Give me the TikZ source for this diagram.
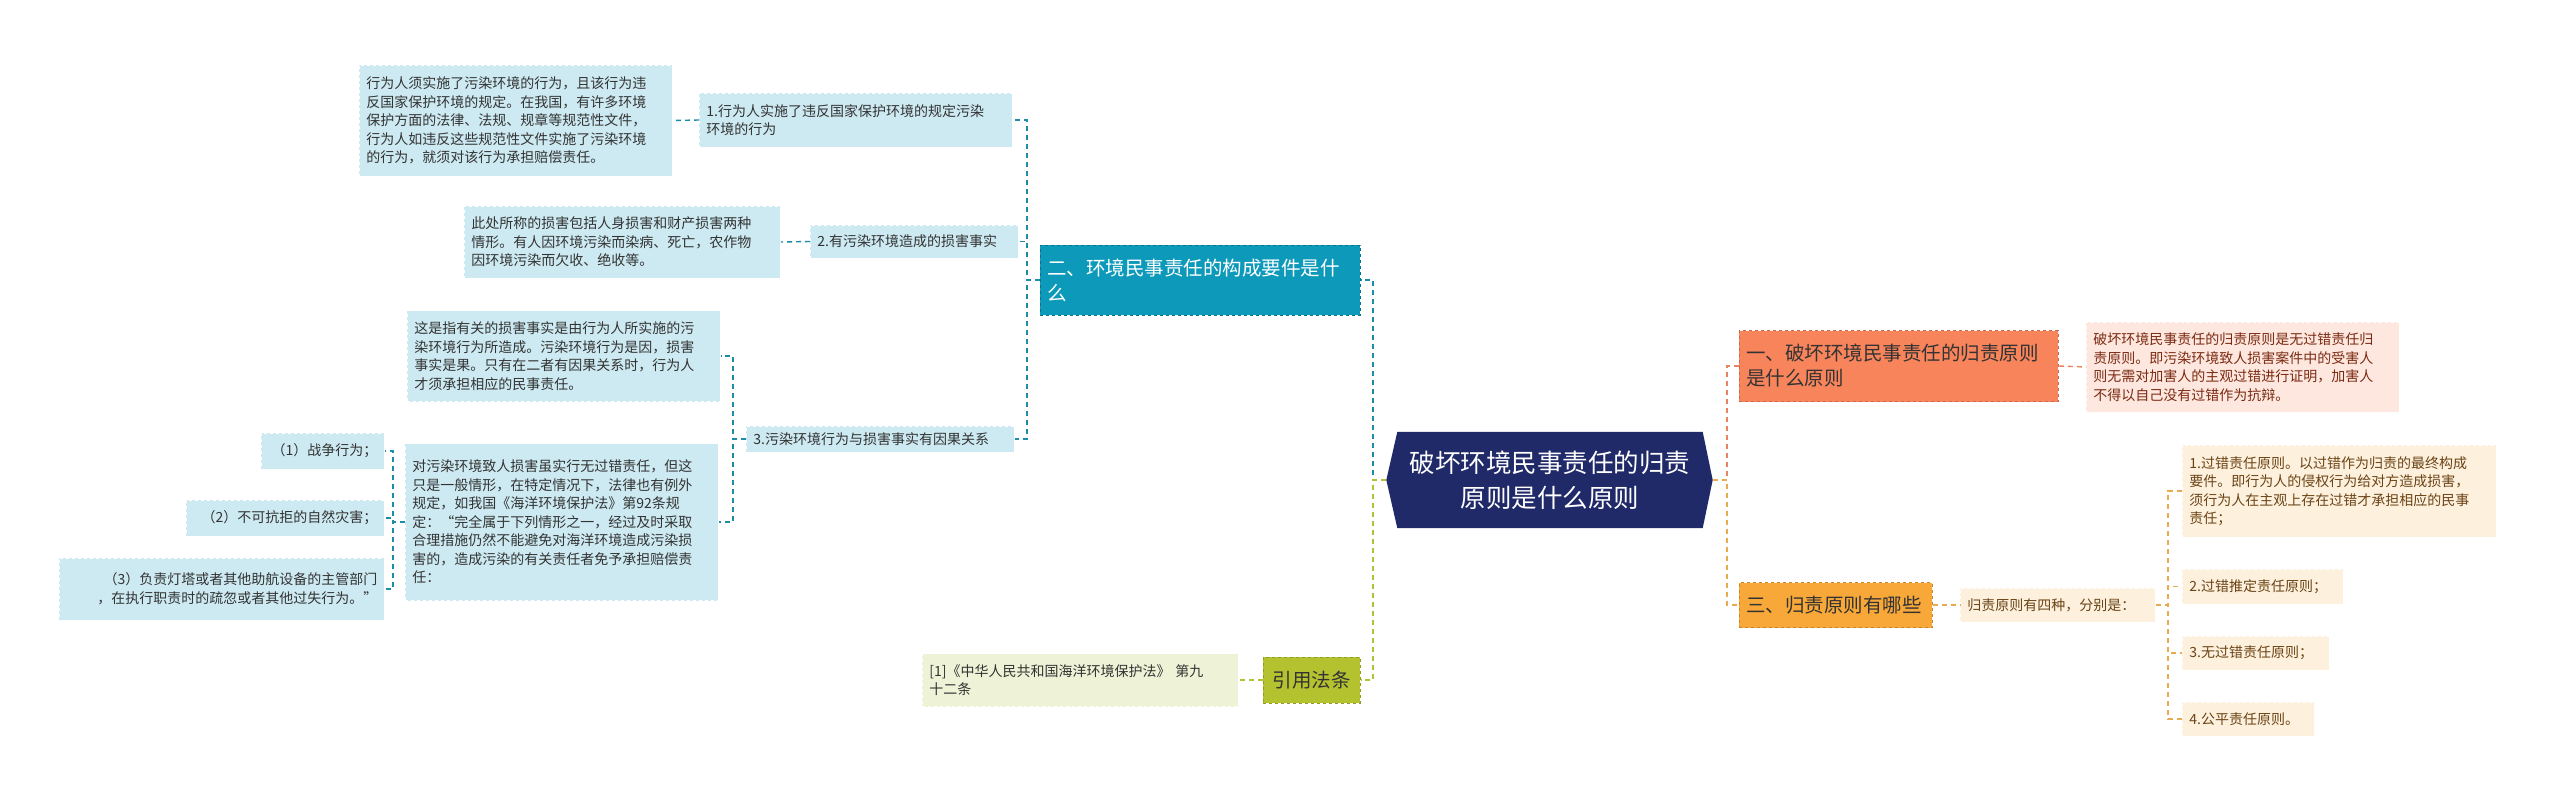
\documentclass[tikz,border=0pt]{standalone}
\usepackage{fontspec}
\setmainfont{Noto Sans CJK SC}
\usetikzlibrary{backgrounds}

\definecolor{tealc}{HTML}{0D99BA}
\definecolor{bluel}{HTML}{CDEAF2}
\definecolor{bline}{HTML}{1C8DA8}
\definecolor{navyc}{HTML}{212A69}
\definecolor{orangec}{HTML}{F8845B}
\definecolor{orangel}{HTML}{FDE7DE}
\definecolor{oline}{HTML}{E88360}
\definecolor{otext}{HTML}{7B2A12}
\definecolor{yellowc}{HTML}{F8A838}
\definecolor{yellowl}{HTML}{FDF1DE}
\definecolor{yline}{HTML}{E9AA50}
\definecolor{ytext}{HTML}{6B4315}
\definecolor{greenc}{HTML}{B5C22F}
\definecolor{greenl}{HTML}{EEF2D6}
\definecolor{gline}{HTML}{AFC23A}
\definecolor{txt}{HTML}{333333}

\tikzset{
  card/.style={rectangle, dashed, line width=0.8pt, inner xsep=7pt, inner ysep=0pt, anchor=west, align=left},
  detail/.style={card, font={\fontsize{14}{18.5}\selectfont}},
  topic/.style={card, font={\fontsize{19.5}{25}\selectfont}},
  link/.style={line width=1.4pt, dash pattern=on 5pt off 4pt},
  bluetopic/.style={topic, fill=tealc, draw=tealc!75!black, text=white},
  bluedet/.style={detail, fill=bluel, draw=white, text=txt},
  greentopic/.style={topic, fill=greenc, draw=greenc!80!black, text=txt},
  greendet/.style={detail, fill=greenl, draw=white, text=txt},
  orangetopic/.style={topic, fill=orangec, draw=orangec!80!black, text=txt},
  orangedet/.style={detail, fill=orangel, draw=white, text=otext},
  yellowtopic/.style={topic, fill=yellowc, draw=yellowc!80!black, text=txt},
  yellowdet/.style={detail, fill=yellowl, draw=white, text=ytext},
  rootnode/.style={rectangle, anchor=center, inner sep=0pt, minimum width=305, minimum height=96,
    align=center, text=white, font={\fontsize{25.5}{35}\selectfont}}
}

\begin{document}
\begin{tikzpicture}[x=1pt, y=-1pt]
    \path[use as bounding box] (0,0) rectangle (2560,800);

    % Central topic
    \node[rootnode] (root) at (1550,480) {破坏环境民事责任的归责\\原则是什么原则};
    \begin{scope}[on background layer]
        \fill[white] (0,0) rectangle (2560,800);
        \fill[navyc] ([xshift=-11pt]root.west) -- (root.north west) -- (root.north east)
            -- ([xshift=10pt]root.east) -- (root.south east) -- (root.south west) -- cycle;
    \end{scope}
    \coordinate (rl) at ([xshift=-11pt]root.west);
    \coordinate (rr) at ([xshift=10pt]root.east);
    \coordinate (jl) at (1373,480);
    \coordinate (jr) at (1727,480);

    % Blue branch
    \node[bluetopic, text width=306, minimum height=70] (b0) at (1040,280) {二、环境民事责任的构成要件是什\\么};
    \node[bluedet, text width=299, minimum height=54] (b1) at (699,120) {1.行为人实施了违反国家保护环境的规定污染\\环境的行为};
    \node[bluedet, text width=299, minimum height=111] (b1d) at (359,120.5) {行为人须实施了污染环境的行为，且该行为违\\反国家保护环境的规定。在我国，有许多环境\\保护方面的法律、法规、规章等规范性文件，\\行为人如违反这些规范性文件实施了污染环境\\的行为，就须对该行为承担赔偿责任。};
    \node[bluedet, text width=194, minimum height=33] (b2) at (810,241.5) {2.有污染环境造成的损害事实};
    \node[bluedet, text width=302, minimum height=72] (b2d) at (464,242) {此处所称的损害包括人身损害和财产损害两种\\情形。有人因环境污染而染病、死亡，农作物\\因环境污染而欠收、绝收等。};
    \node[bluedet, text width=254, minimum height=26] (b3) at (746,439) {3.污染环境行为与损害事实有因果关系};
    \node[bluedet, text width=299, minimum height=91] (b3d1) at (407,356) {这是指有关的损害事实是由行为人所实施的污\\染环境行为所造成。污染环境行为是因，损害\\事实是果。只有在二者有因果关系时，行为人\\才须承担相应的民事责任。};
    \node[bluedet, text width=299, minimum height=157] (b3d2) at (405,522) {对污染环境致人损害虽实行无过错责任，但这\\只是一般情形，在特定情况下，法律也有例外\\规定，如我国《海洋环境保护法》第92条规\\定：“完全属于下列情形之一，经过及时采取\\合理措施仍然不能避免对海洋环境造成污染损\\害的，造成污染的有关责任者免予承担赔偿责\\任：};
    \node[bluedet, align=right, text width=109, minimum height=36] (e1) at (261,451) {（1）战争行为；};
    \node[bluedet, align=right, text width=184, minimum height=36] (e2) at (186,518) {（2）不可抗拒的自然灾害；};
    \node[bluedet, align=right, text width=311, minimum height=62] (e3) at (59,589) {（3）负责灯塔或者其他助航设备的主管部门\\，在执行职责时的疏忽或者其他过失行为。”};

    % Green branch
    \node[greentopic, align=center, text width=83, minimum height=46] (g0) at (1263,680) {引用法条};
    \node[greendet, text width=302, minimum height=53] (g1) at (922,680) {[1]《中华人民共和国海洋环境保护法》 第九\\十二条};

    % Orange branch
    \node[orangetopic, text width=305, minimum height=71] (o0) at (1739,366) {一、破坏环境民事责任的归责原则\\是什么原则};
    \node[orangedet, text width=299, minimum height=90] (o1) at (2086,367) {破坏环境民事责任的归责原则是无过错责任归\\责原则。即污染环境致人损害案件中的受害人\\则无需对加害人的主观过错进行证明，加害人\\不得以自己没有过错作为抗辩。};

    % Yellow branch
    \node[yellowtopic, text width=179, minimum height=45] (y0) at (1739,605) {三、归责原则有哪些};
    \node[yellowdet, text width=181, minimum height=34] (y1) at (1960,605) {归责原则有四种，分别是：};
    \node[yellowdet, text width=300, minimum height=92] (y2) at (2182,491) {1.过错责任原则。以过错作为归责的最终构成\\要件。即行为人的侵权行为给对方造成损害，\\须行为人在主观上存在过错才承担相应的民事\\责任；};
    \node[yellowdet, text width=147, minimum height=35] (y3) at (2182,586.5) {2.过错推定责任原则；};
    \node[yellowdet, text width=133, minimum height=34] (y4) at (2182,653) {3.无过错责任原则；};
    \node[yellowdet, text width=118, minimum height=34] (y5) at (2182,719) {4.公平责任原则。};

    % Root connectors
    \draw[link, bline] (rl) -- (jl) |- (b0.east);
    \draw[link, gline] (rl) -- (jl) |- (g0.east);
    \draw[link, oline] (rr) -- (jr) |- (o0.west);
    \draw[link, yline] (rr) -- (jr) |- (y0.west);

    % Blue connectors
    \coordinate (jb) at (1027,280);
    \foreach \n in {b1,b2,b3} {
        \draw[link, bline] (b0.west) -- (jb) |- (\n.east);
    }
    \draw[link, bline] (b1.west) -- (b1d.east);
    \draw[link, bline] (b2.west) -- (b2d.east);
    \coordinate (jc) at (733,439);
    \foreach \n in {b3d1,b3d2} {
        \draw[link, bline] (b3.west) -- (jc) |- (\n.east);
    }
    \coordinate (je) at (393,522);
    \foreach \n in {e1,e2,e3} {
        \draw[link, bline] (b3d2.west) -- (je) |- (\n.east);
    }

    % Green, orange and yellow connectors
    \draw[link, gline] (g0.west) -- (g1.east);
    \draw[link, oline] (o0.east) -- (o1.west);
    \draw[link, yline] (y0.east) -- (y1.west);
    \coordinate (jy) at (2168,605);
    \foreach \n in {y2,y3,y4,y5} {
        \draw[link, yline] (y1.east) -- (jy) |- (\n.west);
    }
\end{tikzpicture}
\end{document}
